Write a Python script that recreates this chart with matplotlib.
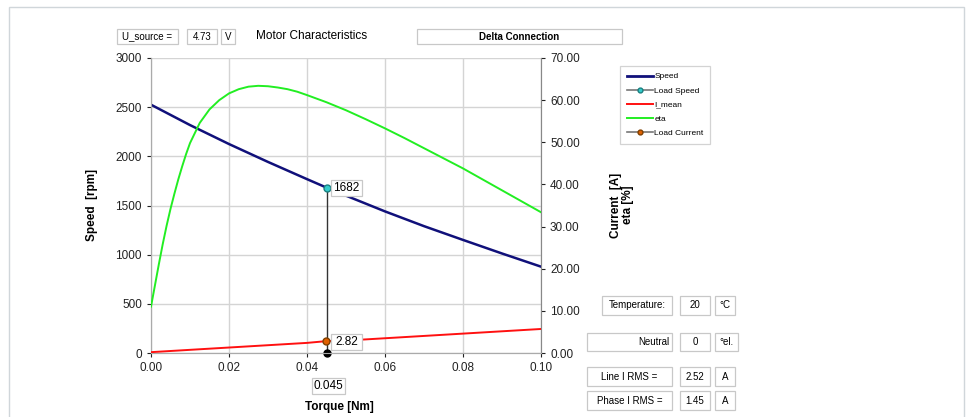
import numpy as np
import matplotlib.pyplot as plt
from matplotlib.patches import Rectangle
from matplotlib.lines import Line2D

plt.rcParams['font.family'] = ['Liberation Sans', 'DejaVu Sans']

# data
torque = [0.0, 0.01, 0.02, 0.03, 0.04, 0.045, 0.05, 0.06, 0.07, 0.08, 0.09, 0.10]
speed = [2525, 2318, 2125, 1943, 1768, 1682, 1600, 1440, 1290, 1150, 1012, 878]
i_mean = [0.2, 0.75, 1.3, 1.85, 2.4, 2.82, 2.95, 3.5, 4.05, 4.6, 5.15, 5.7]

eta_torque = [0.0, 0.001, 0.002, 0.003, 0.004, 0.005, 0.006, 0.007, 0.008, 0.009,
              0.01, 0.0125, 0.015, 0.0175, 0.02, 0.0225, 0.025, 0.0275, 0.03, 0.0325,
              0.035, 0.0375, 0.04, 0.045, 0.05, 0.055, 0.06, 0.065, 0.07, 0.075,
              0.08, 0.085, 0.09, 0.095, 0.10]
eta = [11.0, 16.0, 21.0, 25.8, 30.2, 34.2, 37.8, 41.2, 44.3, 47.2,
       49.8, 54.6, 57.8, 60.0, 61.6, 62.6, 63.2, 63.4, 63.3, 63.0,
       62.6, 62.0, 61.2, 59.5, 57.6, 55.5, 53.3, 51.0, 48.6, 46.2,
       43.8, 41.2, 38.6, 36.0, 33.4]

load_torque = 0.045
load_speed = 1682
load_current = 2.82

W, H = 969, 417
fig = plt.figure(figsize=(W / 100, H / 100), dpi=100)

def fx(px):
    return px / W

def fy(py):
    return 1 - py / H

ax = fig.add_axes([fx(151), fy(353), fx(541) - fx(151), fy(58) - fy(353)])
ax2 = ax.twinx()

ax.plot(torque, speed, color='#10107a', lw=1.8, zorder=3)
ax2.plot(torque, i_mean, color='#ff1010', lw=1.4, zorder=3)
ax2.plot(eta_torque, eta, color='#22ee22', lw=1.4, zorder=3)

# load point
ax.plot([load_torque, load_torque], [0, load_speed], color='#333333', lw=1.0, zorder=4)
ax.plot(load_torque, 0, 'o', color='black', ms=5, zorder=5, clip_on=False)
ax.plot(load_torque, load_speed, 'o', color='#33cccc', mec='#1a8080', ms=5, zorder=5)
ax2.plot(load_torque, load_current, 'o', color='#e06000', mec='#804000', ms=5, zorder=5)

ax.set_xlim(0, 0.10)
ax.set_ylim(0, 3000)
ax2.set_ylim(0, 70)
ax.set_xticks(np.arange(0, 0.101, 0.02))
ax.set_yticks(np.arange(0, 3001, 500))
ax2.set_yticks(np.arange(0, 71, 10))
ax.set_xticklabels(['%.2f' % v for v in np.arange(0, 0.101, 0.02)])
ax2.set_yticklabels(['%.2f' % v for v in np.arange(0, 71, 10)])
ax.grid(True, color='#d4d4d4', lw=1.0)
ax.set_axisbelow(True)

for a in (ax, ax2):
    a.tick_params(labelsize=8.5, colors='#222222', length=3, width=0.8)
    for s in a.spines.values():
        s.set_color('#aaaaaa')
ax2.spines['right'].set_color('#888888')
ax.spines['top'].set_visible(False)
ax2.spines['top'].set_visible(False)

fig.text(fx(92), fy(205), 'Speed  [rpm]', rotation=90, ha='center', va='center',
         fontsize=8.5, fontweight='bold')
fig.text(fx(622), fy(205), 'Current  [A]\neta [%]', rotation=90, ha='center', va='center',
         fontsize=8.5, fontweight='bold', linespacing=0.9)
fig.text(fx(339), fy(407), 'Torque [Nm]', ha='center', va='center',
         fontsize=8.5, fontweight='bold')
fig.text(fx(256), fy(36), 'Motor Characteristics', ha='left', va='center', fontsize=8.5)

def box(x0, y0, x1, y1, text, ha='center', weight='normal', size=7, ec='#c8c8c8'):
    fig.patches.append(Rectangle((fx(x0), fy(y1)), fx(x1) - fx(x0), fy(y0) - fy(y1),
                                 transform=fig.transFigure, fill=True, fc='white',
                                 ec=ec, lw=0.9, zorder=1))
    if ha == 'right':
        tx = x1 - 3
    elif ha == 'left':
        tx = x0 + 3
    else:
        tx = (x0 + x1) / 2
    fig.text(fx(tx), fy((y0 + y1) / 2), text, ha=ha, va='center', fontsize=size,
             fontweight=weight, zorder=2)

# outer frame
fig.patches.append(Rectangle((fx(9), fy(430)), fx(964) - fx(9), fy(7) - fy(430),
                             transform=fig.transFigure, fill=False, ec='#d0d6da', lw=1.0))

box(117, 29, 178, 44, 'U_source =')
box(187, 29, 217, 44, '4.73')
box(221, 29, 235, 44, 'V')
box(417, 29, 622, 44, 'Delta Connection', weight='bold')

box(312, 378, 345, 394, '0.045', size=8.5)
box(331, 180, 362, 196, '1682', size=8.5)
box(331, 334, 362, 350, '2.82', size=8.5)

box(602, 296, 672, 315, 'Temperature:')
box(680, 296, 710, 315, '20')
box(715, 296, 735, 315, '°C')
box(587, 333, 672, 351, 'Neutral', ha='right')
box(680, 333, 710, 351, '0')
box(715, 333, 738, 351, '°el.')
box(587, 367, 672, 386, 'Line I RMS =')
box(680, 367, 710, 386, '2.52')
box(715, 367, 735, 386, 'A')
box(587, 391, 672, 410, 'Phase I RMS =')
box(680, 391, 710, 410, '1.45')
box(715, 391, 735, 410, 'A')

handles = [
    Line2D([], [], color='#10107a', lw=2),
    Line2D([], [], color='#777777', lw=1.2, marker='o', mfc='#33cccc', mec='#1a8080', ms=3.5),
    Line2D([], [], color='#ff1010', lw=1.4),
    Line2D([], [], color='#22ee22', lw=1.4),
    Line2D([], [], color='#777777', lw=1.2, marker='o', mfc='#e06000', mec='#804000', ms=3.5),
]
labels = ['Speed', 'Load Speed', 'I_mean', 'eta', 'Load Current']
leg = fig.legend(handles, labels, loc='upper left',
                 bbox_to_anchor=(fx(620), fy(66)), fontsize=6,
                 frameon=True, fancybox=False, edgecolor='#c8c8c8',
                 handlelength=3.2, handletextpad=0.1, labelspacing=0.75,
                 borderpad=0.8, borderaxespad=0)
leg.get_frame().set_linewidth(0.9)

fig.savefig('out.png', dpi=100, facecolor='white')
